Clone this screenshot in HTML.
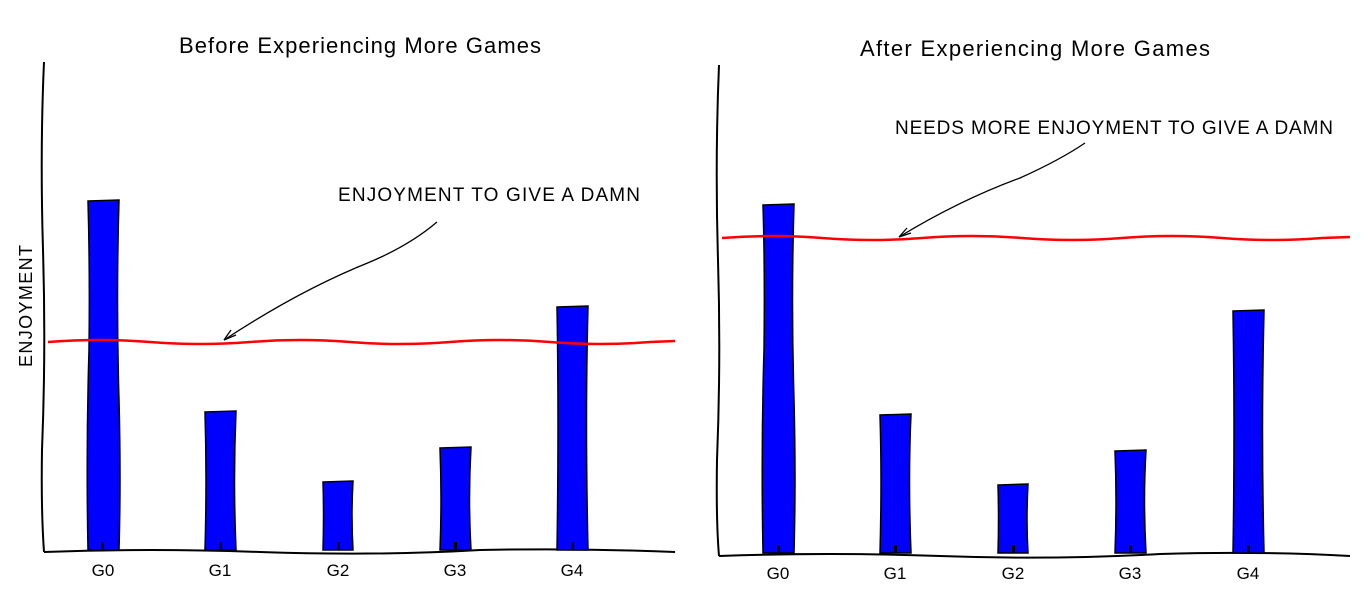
<!DOCTYPE html>
<html><head><meta charset="utf-8"><style>
html,body{margin:0;padding:0;background:#fff;width:1365px;height:598px;overflow:hidden}
text{font-family:"Liberation Sans",sans-serif;fill:#000}
</style></head><body>
<svg width="1365" height="598" viewBox="0 0 1365 598" xmlns="http://www.w3.org/2000/svg">
<g fill="none" stroke="#000" stroke-width="2">
<path d="M44 62 Q40 150 43 250 Q46 350 42 450 Q41 510 44 552"/>
<path d="M44 552 Q150 548 260 552 Q380 556 480 550 Q580 548 675 552"/>
<path d="M719 65 Q715 160 718 260 Q721 360 717 460 Q716 520 719 556"/>
<path d="M719 556 Q830 552 940 556 Q1050 560 1160 554 Q1260 551 1350 556"/>
</g>
<g fill="#0000ff" stroke="#000" stroke-width="1.5">
<path d="M88 201 L119 200 Q116 300 119 400 Q121 480 119 550 L88 550 Q86 450 89 350 Q90 270 88 201Z"/>
<path d="M205 412 L236 411 Q233 480 236 550 L205 550 Q207 480 205 412Z"/>
<path d="M323 482 L353 481 Q351 515 353 550 L323 550 Q324 515 323 482Z"/>
<path d="M440 448 L471 447 Q468 500 471 550 L440 550 Q442 500 440 448Z"/>
<path d="M557 307 L588 306 Q585 420 588 550 L557 550 Q559 420 557 307Z"/>
<path d="M763 205 L794 204 Q791 300 794 400 Q796 480 794 553 L763 553 Q761 450 764 350 Q765 270 763 205Z"/>
<path d="M880 415 L911 414 Q908 480 911 553 L880 553 Q882 480 880 415Z"/>
<path d="M998 485 L1028 484 Q1026 520 1028 553 L998 553 Q999 520 998 485Z"/>
<path d="M1115 451 L1146 450 Q1143 500 1146 553 L1115 553 Q1117 500 1115 451Z"/>
<path d="M1233 311 L1264 310 Q1261 430 1264 553 L1233 553 Q1235 430 1233 311Z"/>
</g>
<g fill="#000">
<rect x="101" y="542" width="3" height="8"/><rect x="219" y="542" width="3" height="8"/>
<rect x="337" y="542" width="3" height="8"/><rect x="454" y="542" width="3" height="8"/>
<rect x="571" y="542" width="3" height="8"/>
<rect x="777" y="545" width="3" height="8"/><rect x="894" y="545" width="3" height="8"/>
<rect x="1012" y="545" width="3" height="8"/><rect x="1129" y="545" width="3" height="8"/>
<rect x="1247" y="545" width="3" height="8"/>
</g>
<g fill="none" stroke="#ff0000" stroke-width="2.5">
<path d="M48 342 Q100 338 150 342 T250 342 T350 342 T450 342 T550 342 T650 342 L675 341"/>
<path d="M722 238 Q772 234 822 238 T922 238 T1022 238 T1122 238 T1222 238 T1322 238 L1350 237"/>
</g>
<g fill="none" stroke="#000" stroke-width="1.3">
<path d="M437 222 Q410 245 370 262 Q300 290 224 340"/>
<path d="M224 340 L236 335 M224 340 L231 330"/>
<path d="M1085 143 Q1060 160 1020 178 Q960 200 899 237"/>
<path d="M899 237 L911 233 M899 237 L907 228"/>
</g>
<text x="360" y="53" font-size="22" text-anchor="middle" textLength="362">Before Experiencing More Games</text>
<text x="1035" y="56" font-size="22" text-anchor="middle" textLength="350">After Experiencing More Games</text>
<text x="338" y="201" font-size="19" textLength="302">ENJOYMENT TO GIVE A DAMN</text>
<text x="895" y="134" font-size="19" textLength="438">NEEDS MORE ENJOYMENT TO GIVE A DAMN</text>
<text transform="translate(32,306) rotate(-90)" font-size="18" text-anchor="middle" textLength="122">ENJOYMENT</text>
<g font-size="17" text-anchor="middle">
<text x="103" y="576">G0</text><text x="220" y="576">G1</text><text x="338" y="576">G2</text><text x="455" y="576">G3</text><text x="572" y="576">G4</text>
<text x="778" y="579">G0</text><text x="895" y="579">G1</text><text x="1013" y="579">G2</text><text x="1130" y="579">G3</text><text x="1248" y="579">G4</text>
</g>
</svg>
</body></html>
